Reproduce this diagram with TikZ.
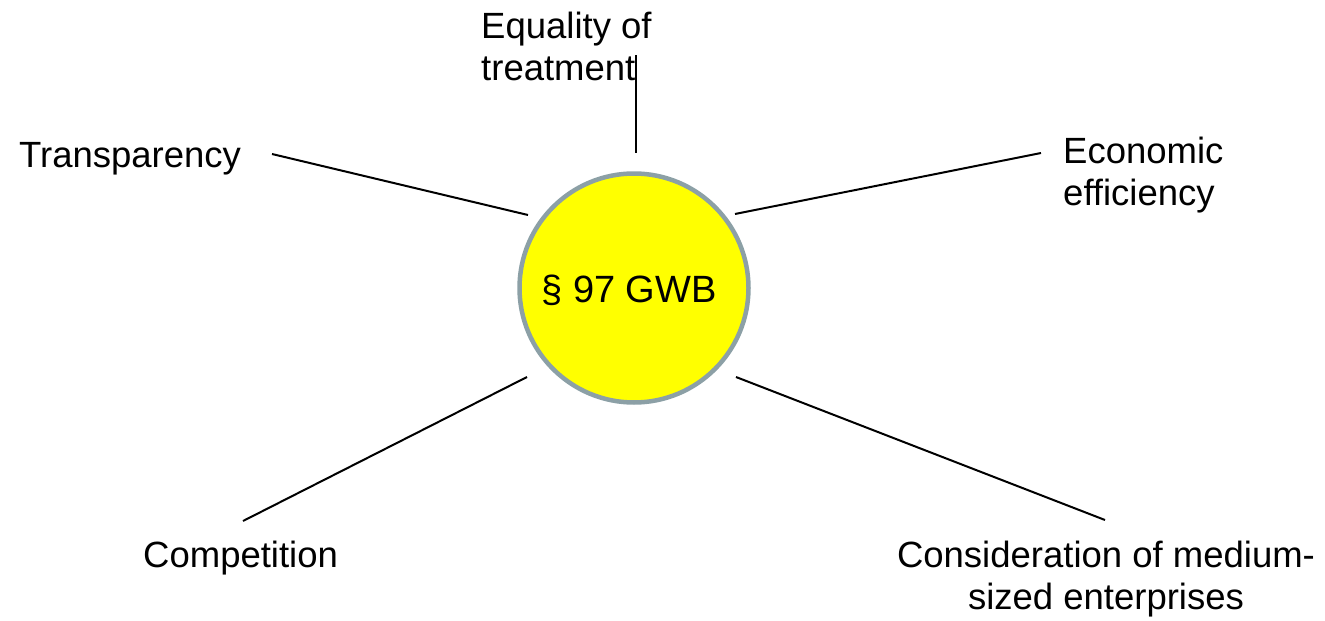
\documentclass[tikz,border=0pt]{standalone}
\usepackage{fontspec}
\setmainfont{Liberation Sans}
\definecolor{ringgray}{RGB}{140,160,166}
\definecolor{hubyellow}{RGB}{255,255,0}
\begin{document}
\begin{tikzpicture}[x=1pt,y=-1pt,
  lbl/.style={inner sep=0pt,font=\fontsize{36.5}{42}\selectfont},
  spoke/.style={line width=2pt,black},
  hub/.style={circle,draw=ringgray,line width=4.5pt,fill=hubyellow,minimum size=229pt,inner sep=0pt,font=\fontsize{38}{42}\selectfont}]
\useasboundingbox (0,0) rectangle (1325,621);
\node[hub] (c) at (634,288) {};
\node[lbl,font=\fontsize{38}{42}\selectfont,anchor=base] (ct) at (629,302) {\S\ 97 GWB};
\node[lbl,align=left,anchor=base west] (eq) at (481,80) {Equality of\\treatment};
\node[lbl,anchor=base west] (tr) at (19,167) {Transparency};
\node[lbl,align=left,anchor=base west] (ec) at (1063,205) {Economic\\efficiency};
\node[lbl,anchor=base west] (co) at (143,567) {Competition};
\node[lbl,align=center,anchor=base] (me) at (1106,609) {Consideration of medium-\\sized enterprises};
\coordinate (eqa) at (636,55);   \coordinate (eqb) at (636,153);
\coordinate (tra) at (272,154);  \coordinate (trb) at (528,215);
\coordinate (eca) at (1041,153); \coordinate (ecb) at (735,214);
\coordinate (coa) at (243,521);  \coordinate (cob) at (527,377);
\coordinate (mea) at (1105,520); \coordinate (meb) at (736,377);
\draw[spoke] (eqa) -- (eqb);
\draw[spoke] (tra) -- (trb);
\draw[spoke] (eca) -- (ecb);
\draw[spoke] (coa) -- (cob);
\draw[spoke] (mea) -- (meb);
\end{tikzpicture}
\end{document}
